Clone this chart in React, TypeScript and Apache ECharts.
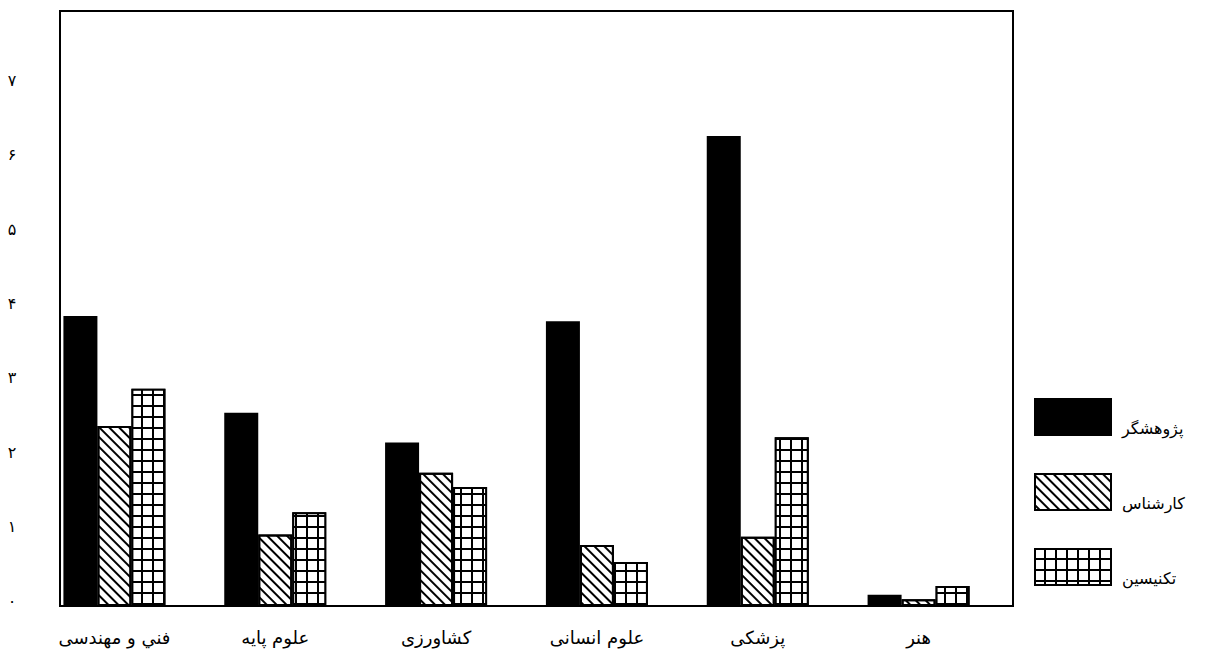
import React, { useEffect, useRef } from "react";
import * as echarts from "echarts";

const categories = ["فني و مهندسی", "علوم پایه", "کشاورزی", "علوم انسانی", "پزشکی", "هنر"];
const researcher = [3.9, 2.6, 2.2, 3.83, 6.32, 0.15];
const expert = [2.42, 0.96, 1.79, 0.82, 0.93, 0.09];
const technician = [2.92, 1.26, 1.6, 0.59, 2.27, 0.27];
const seriesNames = ["پژوهشگر", "کارشناس", "تکنیسین"];
const yTickLabels = ["۰", "۱", "۲", "۳", "۴", "۵", "۶", "۷", ""];

const FONT = "DejaVu Sans";

export default function App() {
  const ref = useRef<HTMLDivElement>(null);
  useEffect(() => {
    if (!ref.current) return;
    const chart = echarts.init(ref.current, undefined, { renderer: "svg" });
    const barBase = {
      type: "bar",
      barWidth: 34,
      barGap: "0%",
    };
    chart.setOption({
      animation: false,
      backgroundColor: "#fff",
      textStyle: { fontFamily: FONT },
      grid: { left: 34, width: 965, top: 11, bottom: 53, containLabel: false },
      xAxis: {
        type: "category",
        data: categories,
        axisLine: { show: false },
        axisTick: { show: false },
        axisLabel: { color: "#000", fontSize: 18, fontFamily: FONT, margin: 22 },
      },
      yAxis: {
        type: "value",
        min: 0,
        max: 8,
        interval: 1,
        splitLine: { show: false },
        axisLine: { show: false },
        axisTick: { show: false },
        axisLabel: {
          color: "#000",
          fontSize: 16,
          fontFamily: FONT,
          align: "center",
          verticalAlign: "bottom",
          lineHeight: 10,
          margin: 22,
          formatter: (v: number) => yTickLabels[Math.round(v)] ?? "",
        },
      },
      legend: {
        orient: "vertical",
        left: 1029,
        top: 390,
        itemWidth: 76,
        itemHeight: 36,
        itemGap: 31,
        icon: "rect",
        formatter: (name: string) => "\n" + name,
        textStyle: { color: "#000", fontSize: 16, fontFamily: FONT, lineHeight: 22, padding: [0, 0, 0, 6] },
        data: seriesNames,
      },
      graphic: [
        {
          type: "rect",
          shape: { x: 60, y: 11, width: 953, height: 595 },
          style: { fill: "none", stroke: "#000", lineWidth: 2 },
          z: 100,
          silent: true,
        },
      ],
      series: [
        {
          ...barBase,
          name: seriesNames[0],
          data: researcher,
          itemStyle: { color: "#000", borderColor: "#000", borderWidth: 2 },
        },
        {
          ...barBase,
          name: seriesNames[1],
          data: expert,
          itemStyle: {
            color: "#fff",
            borderColor: "#000",
            borderWidth: 2,
            decal: {
              symbol: "rect",
              symbolSize: 1,
              color: "#000",
              backgroundColor: "#fff",
              dashArrayX: [1, 0],
              dashArrayY: [1.6, 5],
              rotation: Math.PI / 4,
            },
          },
        },
        {
          ...barBase,
          name: seriesNames[2],
          data: technician,
          itemStyle: {
            color: "#000",
            borderColor: "#000",
            borderWidth: 2,
            decal: {
              symbol: "rect",
              symbolSize: 1,
              color: "#fff",
              backgroundColor: "#000",
              dashArrayX: [[9, 2]],
              dashArrayY: [9, 2],
              rotation: 0,
            },
          },
        },
      ],
    });
    return () => chart.dispose();
  }, []);
  return <div ref={ref} style={{ width: 1221, height: 659, position: "fixed", left: 0, top: 0 }} />;
}
